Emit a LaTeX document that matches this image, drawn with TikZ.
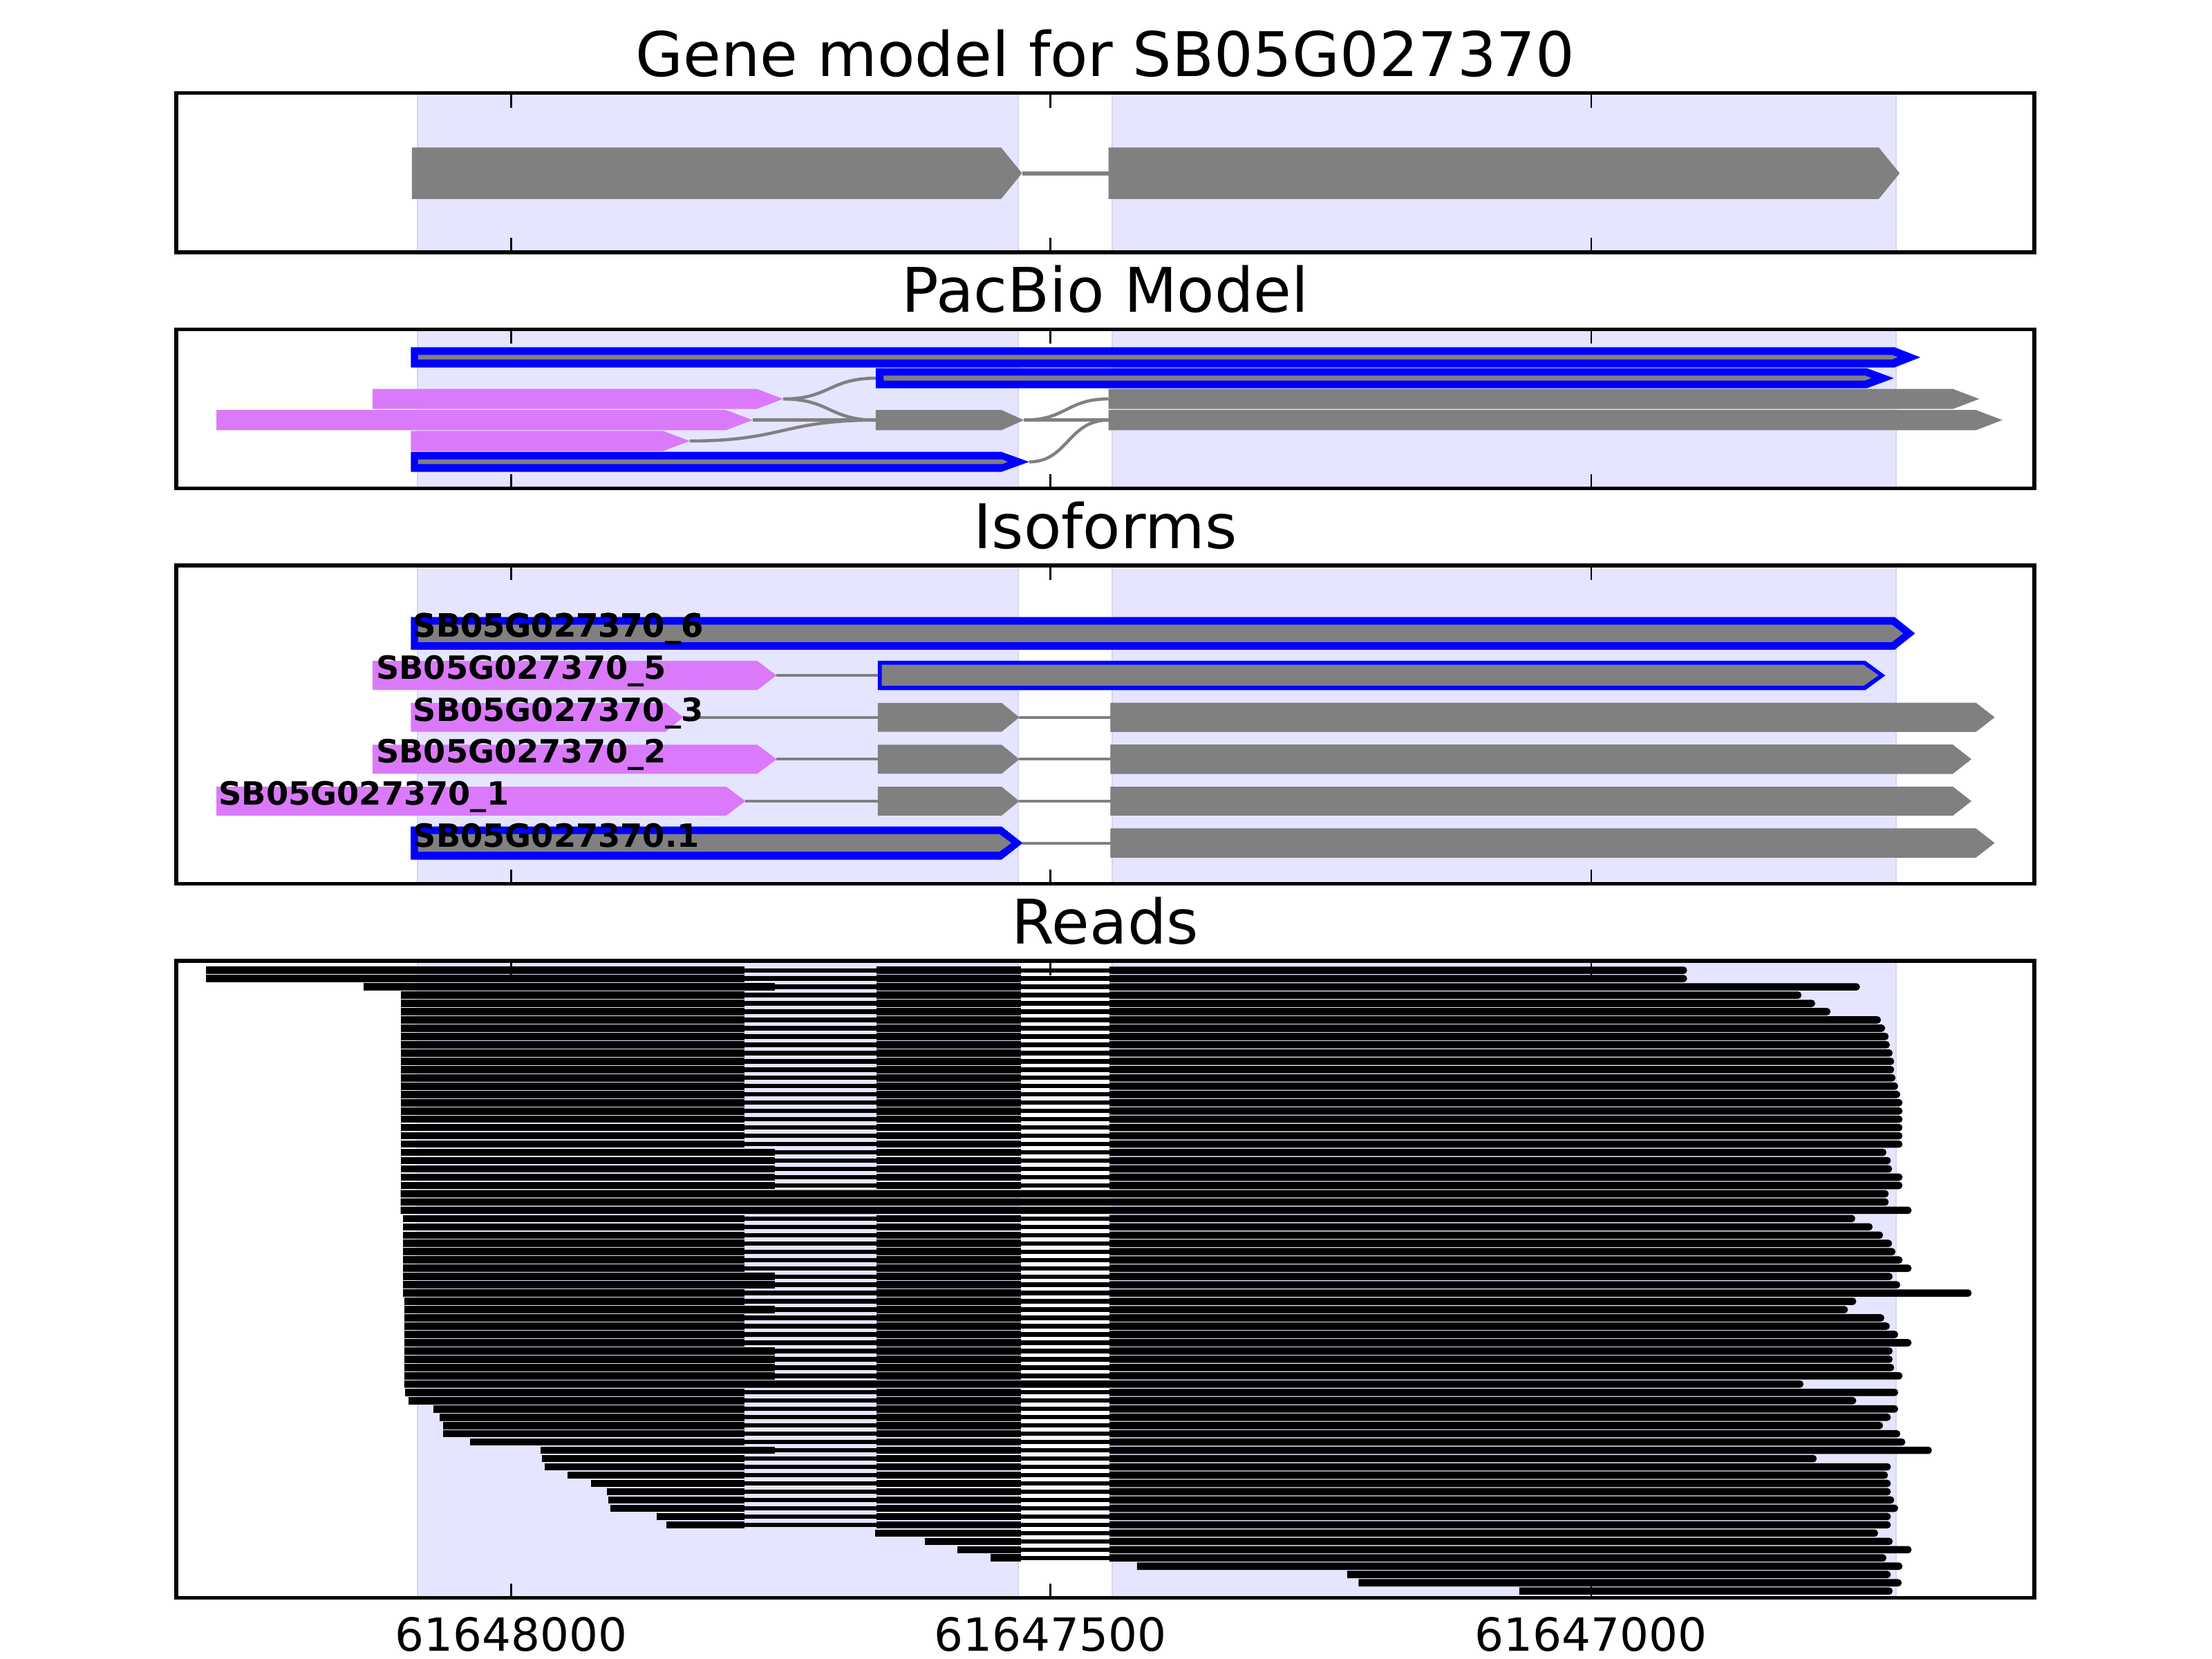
\documentclass[tikz,border=0pt]{standalone}
\usepackage{fontspec}
\setmainfont{DejaVu Sans}

\definecolor{spanblue}{RGB}{229,229,255}
\definecolor{spanedge}{RGB}{214,214,242}
\definecolor{exongray}{RGB}{128,128,128}
\definecolor{utrpink}{RGB}{218,122,250}
\definecolor{pbblue}{RGB}{0,0,255}

% arrow-shaped exon: [colour] x1, body end, tip, y centre, half height
\newcommand{\exonarrow}[6][exongray]{%
  \fill[#1] (#2,{#5-#6}) -- (#3,{#5-#6}) -- (#4,#5) -- (#3,{#5+#6}) -- (#2,{#5+#6}) -- cycle;}
% shaded exon spans of the gene model
\newcommand{\panelshade}[2]{%
  \filldraw[spanfill] (295.8,#1) rectangle (721.8,#2);
  \filldraw[spanfill] (788.4,#1) rectangle (1344,#2);}
% axes box with inward ticks
\newcommand{\panelaxes}[2]{%
  \draw[axesframe] (125,#1) rectangle (1442,#2);
  \foreach \tx in {362.4,744.6,1127.9} {
    \draw[tickmark] (\tx,#1) -- ++(0,10.3);
    \draw[tickmark] (\tx,#2) -- ++(0,-10.3);
  }}
\newcommand{\readbar}[3]{\fill (#1,{#3-2.6}) rectangle (#2,{#3+2.6});}
\newcommand{\readend}[3]{\fill (#1,{#3-2.6}) [rounded corners=0.7pt] -- (#2,{#3-2.6}) -- (#2,{#3+2.6}) [sharp corners] -- (#1,{#3+2.6}) -- cycle;}
\newcommand{\readgap}[3]{\fill (#1,{#3-1.55}) rectangle (#2,{#3+1.55});}

\begin{document}
\begin{tikzpicture}[
    x=0.01cm, y=-0.01cm,
    spanfill/.style={fill=spanblue, draw=spanedge, line width=0.25pt},
    axesframe/.style={draw=black, line width=0.74pt},
    tickmark/.style={line width=0.34pt},
    geneline/.style={draw=exongray, line width=0.83pt},
    isoline/.style={draw=exongray, line width=0.57pt},
    pbline/.style={draw=exongray, line width=0.63pt},
    titletext/.style={anchor=base, inner sep=0pt, font=\fontsize{12.4}{15}\selectfont},
    ticklabel/.style={anchor=base, inner sep=0pt, font=\fontsize{9.2}{11}\selectfont},
    isolabel/.style={anchor=base west, inner sep=0pt, font=\bfseries\fontsize{6.45}{7.5}\selectfont}
]
\useasboundingbox (0,0) rectangle (1568,1176);
\fill[white] (0,0) rectangle (1568,1176);

% gene model
\panelshade{66}{178.9}
\draw[geneline] (724.5,122.8) -- (785.8,122.8);
\exonarrow{292}{709.6}{724.5}{122.8}{18.25}
\exonarrow{785.8}{1331.8}{1346.6}{122.8}{18.25}
\panelaxes{66}{178.9}
\node[titletext] (genetitle) at (783.5,54) {Gene model for SB05G027370};

% PacBio model
\panelshade{233.4}{346.3}
\coordinate (pbCtip) at (555.2,282.8);
\coordinate (pbDtip) at (533.6,297.8);
\coordinate (pbEtip) at (489,312.6);
\coordinate (pbBstart) at (620.8,268.1);
\coordinate (pbDmid) at (620.8,297.8);
\coordinate (pbDmidtip) at (725.8,297.8);
\coordinate (pbFtip) at (729.5,327.4);
\coordinate (pbCend) at (785.8,282.8);
\coordinate (pbDend) at (785.8,297.8);
\draw[pbline] (pbCtip) .. controls (588,282.8) and (588,268.1) .. (pbBstart);
\draw[pbline] (pbCtip) .. controls (588,282.8) and (588,297.8) .. (pbDmid);
\draw[pbline] (pbDtip) -- (pbDmid);
\draw[pbline] (pbEtip) .. controls (555,312.6) and (555,297.8) .. (pbDmid);
\draw[pbline] (pbDmidtip) .. controls (756,297.8) and (756,282.8) .. (pbCend);
\draw[pbline] (pbDmidtip) -- (pbDend);
\draw[pbline] (pbFtip) .. controls (757,327.4) and (757,297.8) .. (pbDend);
\exonarrow[pbblue]{291.3}{1343}{1361.3}{253.3}{7.15}
\exonarrow{296.4}{1341}{1345.3}{253.2}{1.65}
\exonarrow[pbblue]{620.8}{1323.3}{1342.5}{268.1}{7.1}
\exonarrow{626.4}{1322}{1326.6}{268}{1.8}
\exonarrow[utrpink]{264}{536.4}{555.2}{282.8}{7.15}
\exonarrow{785.8}{1384.2}{1403}{282.8}{7.15}
\exonarrow[utrpink]{153.4}{514.4}{533.6}{297.8}{7.2}
\exonarrow{620.8}{709.8}{725.8}{297.8}{7.2}
\exonarrow{785.8}{1400.6}{1419.4}{297.8}{7.2}
\exonarrow[utrpink]{291.3}{469.8}{489}{312.6}{7.2}
\exonarrow[pbblue]{291.3}{709.8}{729.5}{327.4}{7.1}
\exonarrow{296.4}{710.5}{714.5}{327.35}{1.65}
\panelaxes{233.4}{346.3}
\node[titletext] (pbtitle) at (783.5,221.4) {PacBio Model};

% isoforms
\panelshade{400.8}{626.6}
\foreach \iy/\ix in {478.8/550.5, 508.5/484.4, 538.2/550.5, 567.9/528.4}
  \draw[isoline] (\ix,\iy) -- (622.2,\iy);
\foreach \iy in {508.5, 538.2, 567.9}
  \draw[isoline] (722.5,\iy) -- (787.2,\iy);
\draw[isoline] (724.8,597.6) -- (787.2,597.6);
\exonarrow[pbblue]{291.3}{1343}{1357.5}{449}{11.6}
\exonarrow{296.4}{1341}{1349}{449}{6.2}
\exonarrow[utrpink]{264}{536.9}{550.5}{478.8}{10.25}
\exonarrow[pbblue]{622.2}{1322.3}{1336.4}{478.8}{10.4}
\exonarrow{625}{1321}{1331.7}{478.7}{7.5}
\exonarrow[utrpink]{291.3}{471.7}{484.4}{508.5}{10.25}
\exonarrow[utrpink]{264}{536.9}{550.5}{538.2}{10.25}
\exonarrow[utrpink]{153.4}{514.8}{528.4}{567.9}{10.25}
\foreach \iy in {508.5, 538.2, 567.9}
  \exonarrow{622.2}{710}{722.5}{\iy}{10.25}
\exonarrow{787.2}{1400.6}{1413.8}{508.5}{10.25}
\exonarrow{787.2}{1384.2}{1397.3}{538.2}{10.25}
\exonarrow{787.2}{1384.2}{1397.3}{567.9}{10.25}
\exonarrow[pbblue]{291.3}{710}{724.8}{597.6}{11.6}
\exonarrow{296.4}{708.4}{716.9}{597.55}{6.25}
\exonarrow{787.2}{1400.6}{1413.8}{597.6}{10.25}
\node[isolabel] (lab6) at (292.2,451.7) {SB05G027370\_6};
\node[isolabel] (lab5) at (266,481.5) {SB05G027370\_5};
\node[isolabel] (lab3) at (292.2,511.2) {SB05G027370\_3};
\node[isolabel] (lab2) at (266,540.9) {SB05G027370\_2};
\node[isolabel] (lab1) at (154.4,570.6) {SB05G027370\_1};
\node[isolabel] (labp1) at (292.2,600.3) {SB05G027370.1};
\panelaxes{400.8}{626.6}
\node[titletext] (isotitle) at (783.5,388.8) {Isoforms};

% reads
\panelshade{681.1}{1132.7}
% spliced reads: row / start / first exon end / end
\foreach \r/\s/\j/\e in {
    0/146/527.6/1195.9, 1/146/527.6/1195.9, 2/257.5/549.5/1318.4,
    3/284/527.6/1277, 4/284/527.6/1286.7, 5/284/527.6/1297.6,
    6/284/527.6/1333.3, 7/284/527.6/1336.3, 8/284/527.6/1338.8,
    9/284/527.6/1339.6, 10/284/527.6/1341.6, 11/284/527.6/1342.7,
    12/284/527.6/1342.7, 13/284/527.6/1343.6, 14/284/527.6/1345.5,
    15/284/527.6/1347, 16/284/527.6/1348.6, 17/284/527.6/1348.6,
    18/284/527.6/1348.6, 19/284/527.6/1348.6, 20/284/527.6/1348.6,
    21/284/527.6/1348.6, 22/284/549.5/1337.2, 23/284/549.5/1340.3,
    24/284/549.5/1341.2, 25/284/549.5/1348.6, 26/284/549.5/1348.6,
    30/285.6/527.6/1315.1, 31/285.6/527.6/1327.4, 32/285.6/527.6/1334.8,
    33/285.6/527.6/1341.2, 34/285.6/527.6/1343.6, 35/285.6/527.6/1348.6,
    36/285.6/527.6/1355, 37/285.6/549.5/1341.6, 38/285.6/549.5/1347,
    39/285.6/527.6/1397.6, 40/286.6/527.6/1315.8, 41/286.6/549.5/1309.9,
    42/286.6/527.6/1335.7, 43/286.6/527.6/1339.6, 44/286.6/527.6/1345.5,
    45/286.6/527.6/1355, 46/286.6/549.5/1341.6, 47/286.6/549.5/1341.6,
    48/286.6/549.5/1342.7, 49/286.6/549.5/1348.6, 51/286.9/527.6/1345.5,
    52/289.4/527.6/1315.8, 53/307.2/527.6/1345.5, 54/311.6/527.6/1340.3,
    55/314.1/527.6/1334.8, 56/314.1/527.6/1347, 57/333.1/527.6/1350.6,
    58/383.4/549.5/1369.4, 59/384.4/527.6/1287.8, 60/386/527.6/1340.3,
    61/402.2/527.6/1338.3, 62/418.8/527.6/1340.3, 63/430/527.6/1340.3,
    64/431/527.6/1342.7, 65/432.5/527.6/1345.5, 66/465.3/527.6/1340.3,
    67/472.2/527.6/1340.3} {
  \pgfmathsetmacro{\yc}{687.8+5.867*\r}
  \readgap{\j}{786.4}{\yc}
  \readbar{\s}{\j}{\yc}
  \readbar{621.3}{723.6}{\yc}
  \readend{786.4}{\e}{\yc}
}
% reads starting in the second exon
\foreach \r/\s/\e in {68/620.4/1331.3, 69/655.6/1341.6, 70/678.6/1355, 71/702.2/1337.2} {
  \pgfmathsetmacro{\yc}{687.8+5.867*\r}
  \readgap{723.6}{786.4}{\yc}
  \readbar{\s}{723.6}{\yc}
  \readend{786.4}{\e}{\yc}
}
% unspliced reads
\foreach \r/\s/\e in {27/284/1338.8, 28/284/1338.8, 29/284/1355, 50/286.6/1278.4,
    72/806/1348.6, 73/955/1340.3, 74/963/1348, 75/1077/1341.6} {
  \pgfmathsetmacro{\yc}{687.8+5.867*\r}
  \readend{\s}{\e}{\yc}
}
\panelaxes{681.1}{1132.7}
\node[titletext] (readtitle) at (783.5,669.1) {Reads};

% x axis labels
\node[ticklabel] (tickA) at (362.4,1170.3) {61648000};
\node[ticklabel] (tickB) at (744.6,1170.3) {61647500};
\node[ticklabel] (tickC) at (1127.9,1170.3) {61647000};
\end{tikzpicture}
\end{document}
